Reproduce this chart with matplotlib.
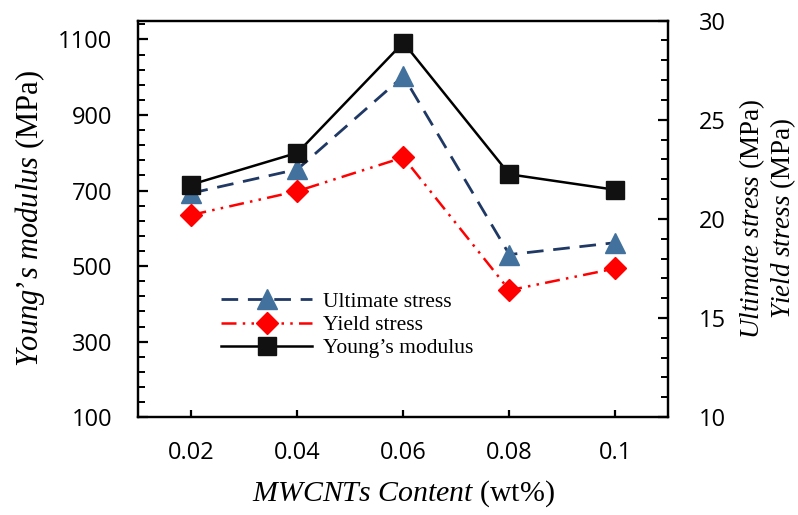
import matplotlib
matplotlib.use('Agg')
import matplotlib.pyplot as plt
from matplotlib.ticker import MultipleLocator

plt.rcParams['mathtext.fontset'] = 'custom'
plt.rcParams['mathtext.rm'] = 'Liberation Serif'
plt.rcParams['mathtext.it'] = 'Liberation Serif:italic'

content = ['0.02', '0.04', '0.06', '0.08', '0.1']
youngs_modulus = [716, 800, 1092, 743, 702]      # MPa, left axis
ultimate_stress = [21.3, 22.5, 27.2, 18.2, 18.8]  # MPa, right axis
yield_stress = [20.2, 21.4, 23.1, 16.4, 17.5]     # MPa, right axis

x = list(range(len(content)))
tick_font = 'Open Sans'
serif = 'Liberation Serif'

fig = plt.figure(figsize=(7.98, 5.15), dpi=100)
ax = fig.add_axes([0.1735, 0.19, 0.664, 0.77])
ax2 = ax.twinx()

l1, = ax2.plot(x, ultimate_stress, color='#1F3864', lw=2, dashes=(6, 3.5),
               marker='^', markersize=14, markerfacecolor='#41719C',
               markeredgecolor='#41719C', label='Ultimate stress')
l2, = ax2.plot(x, yield_stress, color='#FF0000', lw=1.8, dashes=(6, 2.5, 1, 2.5, 1, 2.5),
               marker='D', markersize=11, markerfacecolor='#FF0000',
               markeredgecolor='#FF0000', label='Yield stress')
l3, = ax.plot(x, youngs_modulus, color='black', lw=1.8, marker='s',
              markersize=13, markerfacecolor='#111111', markeredgecolor='#111111',
              label='Young\u2019s modulus')
ax.set_zorder(ax2.get_zorder() + 1)
ax.patch.set_visible(False)

ax.set_xlim(-0.5, len(content) - 0.5)
ax.set_xticks(x)
ax.set_xticklabels(content)
ax.set_ylim(100, 1150)
ax.yaxis.set_major_locator(MultipleLocator(200, offset=100))
ax.yaxis.set_minor_locator(MultipleLocator(40, offset=20))
ax2.set_ylim(10, 30)
ax2.yaxis.set_major_locator(MultipleLocator(5))
ax2.yaxis.set_minor_locator(MultipleLocator(1))

for a in (ax, ax2):
    for s in a.spines.values():
        s.set_linewidth(1.6)
    a.tick_params(which='major', direction='in', length=7, width=1.6,
                  labelsize=17, pad=19)
    a.tick_params(which='minor', direction='in', length=5, width=1.4)
    for lab in a.get_xticklabels() + a.get_yticklabels():
        lab.set_fontfamily(tick_font)
ax.tick_params(axis='x', length=5, pad=17)
ax2.tick_params(axis='y', pad=22)

ax.set_xlabel('$\\it{MWCNTs\\ Content}$ (wt%)', fontsize=21.5, family=serif, labelpad=10)
ax.set_ylabel('$\\it{Young\u2019s\\ modulus}$ (MPa)', fontsize=22, family=serif, labelpad=8)
fig.text(0.943, 0.575, '$\\it{Ultimate\\ stress}$ (MPa)', rotation=90, fontsize=19.5,
         family=serif, ha='center', va='center')
fig.text(0.981, 0.575, '$\\it{Yield\\ stress}$ (MPa)', rotation=90, fontsize=19.5,
         family=serif, ha='center', va='center')

leg = ax.legend(handles=[l1, l2, l3], loc='upper left', bbox_to_anchor=(0.12, 0.365),
                frameon=False, handlelength=4.2, handletextpad=0.5, labelspacing=0.15,
                prop={'family': serif, 'size': 15.5})

fig.savefig('out.png', dpi=100)
